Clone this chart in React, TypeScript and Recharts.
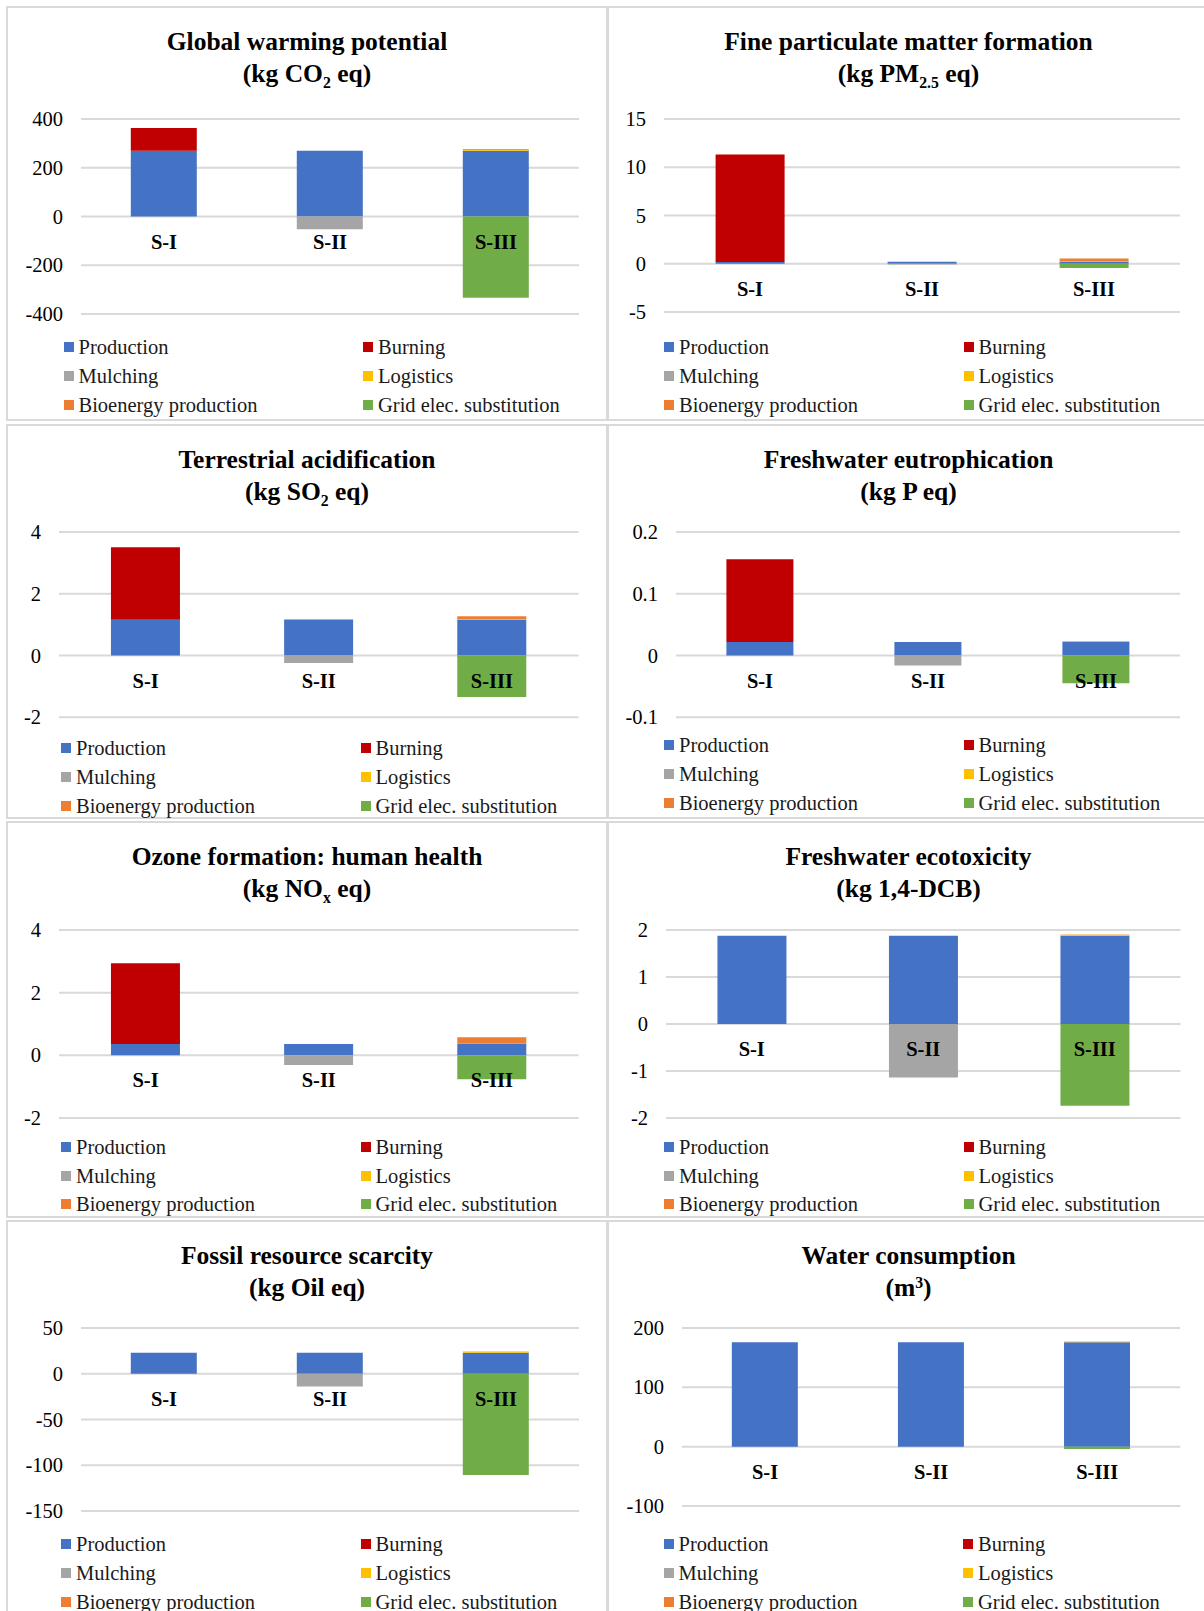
import React from 'react';
import { BarChart, Bar, XAxis, YAxis, CartesianGrid } from 'recharts';

const scenarios = ['S-I', 'S-II', 'S-III'];
const seriesNames = ['Production', 'Burning', 'Mulching', 'Logistics', 'Bioenergy production', 'Grid elec. substitution'];
const seriesColors = ['#4472C4', '#C00000', '#A5A5A5', '#FFC000', '#ED7D31', '#70AD47'];

// one row per series (same order as seriesNames), columns S-I, S-II, S-III
const gwpValues = [[270, 270, 270], [93, 0, 0], [0, -52, 0], [0, 0, 4], [0, 0, 3], [0, 0, -333]];
const pmValues = [[0.18, 0.2, 0.2], [11.15, 0, 0], [0, -0.08, 0], [0, 0, 0.03], [0, 0, 0.32], [0, 0, -0.45]];
const acidValues = [[1.16, 1.17, 1.17], [2.35, 0, 0], [0, -0.24, 0], [0, 0, 0.01], [0, 0, 0.09], [0, 0, -1.34]];
const eutroValues = [[0.022, 0.022, 0.022], [0.134, 0, 0], [0, -0.016, 0], [0, 0, 0.001], [0, 0, 0.0005], [0, 0, -0.045]];
const ozoneValues = [[0.36, 0.36, 0.36], [2.58, 0, 0], [0, -0.31, 0], [0, 0, 0.01], [0, 0, 0.21], [0, 0, -0.76]];
const ecotoxValues = [[1.88, 1.88, 1.88], [0, 0, 0], [0, -1.14, 0], [0, 0, 0.02], [0, 0, 0.003], [0, 0, -1.74]];
const fossilValues = [[23, 23, 23], [0, 0, 0], [0, -14, 0], [0, 0, 1], [0, 0, 0.2], [0, 0, -110.7]];
const waterValues = [[176, 176, 176], [0, 0, 0], [0, -0.3, 0], [0, 0, 1], [0, 0, 0.2], [0, 0, -4]];

const gwpTicks = [-400, -200, 0, 200, 400];
const pmTicks = [-5, 0, 5, 10, 15];
const acidTicks = [-2, 0, 2, 4];
const eutroTicks = [-0.1, 0, 0.1, 0.2];
const ozoneTicks = [-2, 0, 2, 4];
const ecotoxTicks = [-2, -1, 0, 1, 2];
const fossilTicks = [-150, -100, -50, 0, 50];
const waterTicks = [-100, 0, 100, 200];

const SERIF = "'Liberation Serif', 'Times New Roman', serif";
const BORDER = '#d9d9d9';

const sub = (t: string) => <span style={{ fontSize: '0.62em', position: 'relative', top: '0.38em' }}>{t}</span>;
const sup = (t: string) => <span style={{ fontSize: '0.62em', position: 'relative', top: '-0.5em' }}>{t}</span>;

const rowsBox = [
  { top: 6, height: 415 },
  { top: 424, height: 395 },
  { top: 821, height: 397 },
  { top: 1220, height: 420 },
];
const colsBox = [
  { left: 6, width: 602 },
  { left: 607, width: 603 },
];

const panels = [
  { row: 0, col: 0, title: 'Global warming potential', unit: <>(kg CO{sub('2')} eq)</>, values: gwpValues, ticks: gwpTicks, plot: { L: 80.5, R: 578.5, T: 119, B: 314 }, legendX: 63.5, legendY: 347 },
  { row: 0, col: 1, title: 'Fine particulate matter formation', unit: <>(kg PM{sub('2.5')} eq)</>, values: pmValues, ticks: pmTicks, plot: { L: 664, R: 1180, T: 119, B: 312 }, legendX: 664, legendY: 347 },
  { row: 1, col: 0, title: 'Terrestrial acidification', unit: <>(kg SO{sub('2')} eq)</>, values: acidValues, ticks: acidTicks, plot: { L: 59, R: 578.5, T: 532, B: 717.3 }, legendX: 61, legendY: 748 },
  { row: 1, col: 1, title: 'Freshwater eutrophication', unit: <>(kg P eq)</>, values: eutroValues, ticks: eutroTicks, plot: { L: 676, R: 1180, T: 532, B: 717.3 }, legendX: 664, legendY: 745 },
  { row: 2, col: 0, title: 'Ozone formation: human health', unit: <>(kg NO{sub('x')} eq)</>, values: ozoneValues, ticks: ozoneTicks, plot: { L: 59, R: 578.5, T: 930, B: 1118 }, legendX: 61, legendY: 1146.7 },
  { row: 2, col: 1, title: 'Freshwater ecotoxicity', unit: <>(kg 1,4-DCB)</>, values: ecotoxValues, ticks: ecotoxTicks, plot: { L: 665.5, R: 1180, T: 930, B: 1118 }, legendX: 664, legendY: 1146.7 },
  { row: 3, col: 0, title: 'Fossil resource scarcity', unit: <>(kg Oil eq)</>, values: fossilValues, ticks: fossilTicks, plot: { L: 80.5, R: 578.5, T: 1328, B: 1511 }, legendX: 61, legendY: 1544 },
  { row: 3, col: 1, title: 'Water consumption', unit: <>(m{sup('3')})</>, values: waterValues, ticks: waterTicks, plot: { L: 681.7, R: 1180, T: 1328, B: 1506 }, legendX: 663.5, legendY: 1544 },
];

function ScenarioTick(props: any) {
  const { x, y, payload, lift } = props;
  return (
    <text x={x} y={y - lift + 25} textAnchor="middle" dominantBaseline="central"
      style={{ fontFamily: SERIF }} fontWeight="bold" fontSize={20.5} fill="#000">
      {payload.value}
    </text>
  );
}

function ValueTick(props: any) {
  const { x, y, payload } = props;
  return (
    <text x={x} y={y} textAnchor="end" dominantBaseline="central"
      style={{ fontFamily: SERIF }} fontSize={20.5} fill="#000">
      {payload.value}
    </text>
  );
}

function Legend6({ x, y }: { x: number; y: number }) {
  return (
    <>
      {seriesNames.map((name, k) => {
        const cx = x + (k % 2) * 299.5;
        const cy = y + Math.floor(k / 2) * 28.8;
        return (
          <div key={name} style={{ position: 'absolute', left: cx, top: cy - 14, height: 28, display: 'flex', alignItems: 'center', whiteSpace: 'nowrap' }}>
            <span style={{ width: 10, height: 10, background: seriesColors[k], display: 'inline-block', marginRight: 5 }} />
            <span style={{ fontFamily: SERIF, fontSize: 20.5, color: '#1a1a1a', lineHeight: '28px' }}>{name}</span>
          </div>
        );
      })}
    </>
  );
}

function Panel({ p }: { p: (typeof panels)[number] }) {
  const rb = rowsBox[p.row];
  const cb = colsBox[p.col];
  const { L, R, T, B } = p.plot;
  const min = p.ticks[0];
  const max = p.ticks[p.ticks.length - 1];
  const lift = ((B - T) * (0 - min)) / (max - min);
  const data = scenarios.map((name, i) => {
    const row: Record<string, any> = { name };
    p.values.forEach((vals, k) => { row[`s${k}`] = vals[i]; });
    return row;
  });
  const yw = 70;
  const pad = 12;
  const xh = 2;
  const centerX = cb.left + cb.width / 2;
  return (
    <>
      <div style={{ position: 'absolute', left: cb.left, top: rb.top, width: cb.width, height: rb.height, border: `2px solid ${BORDER}`, boxSizing: 'border-box' }} />
      <div style={{ position: 'absolute', left: centerX - 300, width: 600, top: rb.top + 36 - 16, height: 32, lineHeight: '32px', textAlign: 'center', fontFamily: SERIF, fontWeight: 'bold', fontSize: 25.5, color: '#000', whiteSpace: 'nowrap' }}>
        {p.title}
      </div>
      <div style={{ position: 'absolute', left: centerX - 300, width: 600, top: rb.top + 68 - 16, height: 32, lineHeight: '32px', textAlign: 'center', fontFamily: SERIF, fontWeight: 'bold', fontSize: 25.5, color: '#000', whiteSpace: 'nowrap' }}>
        {p.unit}
      </div>
      <div style={{ position: 'absolute', left: L - yw, top: T - pad, fontFamily: SERIF }}>
        <BarChart width={R - L + yw + pad} height={B - T + 2 * pad} data={data} stackOffset="sign" barCategoryGap="30%"
          margin={{ top: pad, right: pad, bottom: pad - xh, left: 0 }}>
          <CartesianGrid vertical={false} stroke={BORDER} strokeWidth={2} />
          {seriesNames.map((name, k) => (
            <Bar key={name} dataKey={`s${k}`} name={name} stackId="a" fill={seriesColors[k]} isAnimationActive={false} />
          ))}
          <YAxis type="number" domain={[min, max]} ticks={p.ticks} interval={0} width={yw} axisLine={false} tickLine={false}
            tickSize={0} tickMargin={18} allowDataOverflow
            tick={(tp: any) => <ValueTick {...tp} />} />
          <XAxis dataKey="name" height={xh} axisLine={false} tickLine={false} tickSize={0} tickMargin={0} interval={0}
            tick={(tp: any) => <ScenarioTick {...tp} lift={lift} />} />
        </BarChart>
      </div>
      <Legend6 x={p.legendX} y={p.legendY} />
    </>
  );
}

export default function App() {
  return (
    <div style={{ position: 'absolute', left: 0, top: 0, width: 1204, height: 1611, overflow: 'hidden', background: '#fff', fontFamily: SERIF }}>
      {panels.map((p) => <Panel key={p.title} p={p} />)}
    </div>
  );
}
